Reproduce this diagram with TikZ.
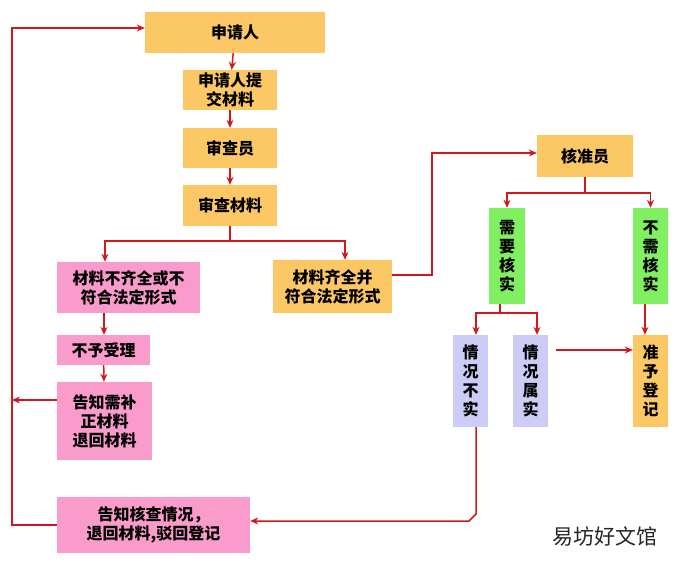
\documentclass[tikz,border=0pt]{standalone}
\usepackage{fontspec}
\newfontfamily\cjk{Noto Sans CJK SC}
\usetikzlibrary{arrows.meta}
\definecolor{boxorange}{HTML}{FCC865}
\definecolor{boxpink}{HTML}{F99CCB}
\definecolor{boxgreen}{HTML}{80F060}
\definecolor{boxblue}{HTML}{CCCCF6}
\definecolor{flowred}{HTML}{D0191C}
\tikzset{
  box/.style={inner sep=0pt,align=center,font=\cjk\bfseries\fontsize{16}{19}\selectfont},
  flow/.style={flowred,line width=1.5pt,-{Stealth[length=8pt,width=7pt]}},
  line/.style={flowred,line width=1.5pt}
}
\begin{document}
\begin{tikzpicture}[x=1pt,y=-1pt]
\useasboundingbox (0,0) rectangle (693,568);

% left column
\node[box,fill=boxorange,minimum width=180pt,minimum height=41pt] (applicant) at (235,32.5) {申请人};
\node[box,fill=boxorange,minimum width=94pt,minimum height=40pt] (submit) at (230,90) {申请人提\\交材料};
\node[box,fill=boxorange,minimum width=94pt,minimum height=40pt] (examiner) at (230,148) {审查员};
\node[box,fill=boxorange,minimum width=94pt,minimum height=41pt] (examine) at (230,205.5) {审查材料};
\node[box,fill=boxpink,minimum width=143pt,minimum height=51pt] (incomplete) at (128.5,287.5) {材料不齐全或不\\符合法定形式};
\node[box,fill=boxorange,minimum width=119pt,minimum height=53pt] (complete) at (332.5,286.5) {材料齐全并\\符合法定形式};
\node[box,fill=boxpink,minimum width=93pt,minimum height=30pt] (reject) at (103.5,350) {不予受理};
\node[box,fill=boxpink,minimum width=95pt,minimum height=78pt] (notify) at (104.5,421) {告知需补\\正材料\\退回材料};
\node[box,fill=boxpink,minimum width=193pt,minimum height=56pt] (report) at (153.5,525) {告知核查情况，\\退回材料,驳回登记};

% right column
\node[box,fill=boxorange,minimum width=96pt,minimum height=42pt] (approver) at (585,156) {核准员};
\node[box,fill=boxgreen,minimum width=36pt,minimum height=96pt] (verify) at (507,256) {需\\要\\核\\实};
\node[box,fill=boxgreen,minimum width=35pt,minimum height=96pt] (noverify) at (650.5,256) {不\\需\\核\\实};
\node[box,fill=boxblue,minimum width=35pt,minimum height=92pt] (false) at (470.5,381) {情\\况\\不\\实};
\node[box,fill=boxblue,minimum width=35pt,minimum height=92pt] (true) at (530.5,381) {情\\况\\属\\实};
\node[box,fill=boxorange,minimum width=35pt,minimum height=92pt] (grant) at (650.5,381) {准\\予\\登\\记};

\node[font=\cjk\fontsize{21}{24}\selectfont,text=black!85] (mark) at (605,536) {易坊好文馆};

% connectors
\draw[flow] (applicant) -- (submit);
\draw[flow] (submit) -- (examiner);
\draw[flow] (examiner) -- (examine);
\draw[line] (examine.south) -- ++(0,15) coordinate (split);
\draw[flow] (split) -| (incomplete.north -| 105,0);
\draw[flow] (split) -| (complete.north -| 345,0);
\draw[flow] (incomplete.south -| 104,0) -- (reject.north -| 104,0);
\draw[flow] (reject) -- (notify);
\coordinate (loop) at (12,28);
\draw[flow] (notify.west |- 0,400) -- (loop |- 0,400);
\draw[flow] (report.west) -- (report.west -| loop) -- (loop) -- (applicant.west |- loop);
\draw[flow] (complete.east |- 0,275) -- (432,275) -- (432,153) -- (approver.west |- 0,153);
\draw[line] (approver.south) -- ++(0,16) coordinate (split2);
\draw[flow] (split2) -| (verify.north);
\draw[flow] (split2) -| (noverify.north);
\draw[line] (verify.south -| 500,0) -- (500,313) coordinate (split3);
\draw[flow] (split3) -| (false.north -| 476,0);
\draw[flow] (split3) -| (true.north -| 537,0);
\draw[flow] (noverify.south -| 645,0) -- (grant.north -| 645,0);
\draw[flow] (556,350) -- (grant.west |- 0,350);
\draw[flow] (false.south -| 476,0) -- (476,514) -- (469,521) -- (report.east |- 0,521);
\end{tikzpicture}
\end{document}
